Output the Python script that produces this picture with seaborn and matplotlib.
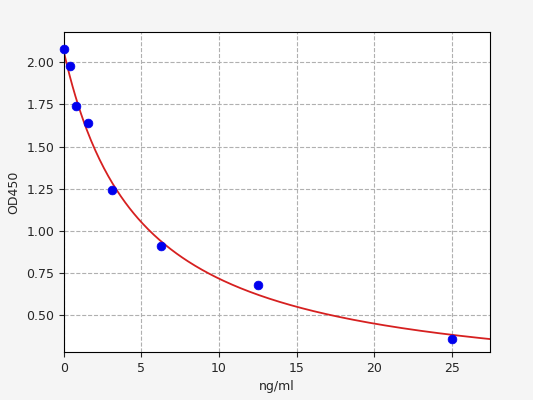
import numpy as np
import matplotlib
matplotlib.use('Agg')
import matplotlib.pyplot as plt
import seaborn as sns

# ── Standard points ──────────────────────────────────────────
conc = [0, 0.39, 0.78, 1.56, 3.125, 6.25, 12.5, 25]
od450 = [2.08, 1.98, 1.74, 1.64, 1.24, 0.91, 0.68, 0.36]

# 4PL fit parameters (estimated from the drawn curve)
fit_a, fit_b, fit_c, fit_d = 2.06, 1.0, 4.95, 0.05

sns.set_style('ticks')
fig = plt.figure(figsize=(5.33, 4.0), dpi=100, facecolor='#f5f5f5')
ax = fig.add_axes([0.12, 0.12, 0.80, 0.80])

xs = np.linspace(0, 27.5, 300)
ys = fit_d + (fit_a - fit_d) / (1 + (xs / fit_c) ** fit_b)
sns.lineplot(x=xs, y=ys, ax=ax, color='#d62020', linewidth=1.3)
sns.scatterplot(x=conc, y=od450, ax=ax, color='#0000ee', s=40,
                edgecolor='#0000ee', zorder=3, clip_on=False)

ax.set_xlim(0, 27.5)
ax.set_ylim(0.28, 2.18)
ax.set_xticks([0, 5, 10, 15, 20, 25])
ax.set_yticks([0.5, 0.75, 1.0, 1.25, 1.5, 1.75, 2.0])
ax.set_yticklabels(['0.50', '0.75', '1.00', '1.25', '1.50', '1.75', '2.00'])
ax.grid(True, linestyle='--', color='#b0b0b0', linewidth=0.8)
ax.tick_params(labelsize=9)
ax.set_xlabel('ng/ml', fontsize=9)
ax.set_ylabel('OD450', fontsize=9)
for s in ax.spines.values():
    s.set_color('black')
    s.set_linewidth(0.8)

fig.savefig('out.png', dpi=100, facecolor=fig.get_facecolor())
